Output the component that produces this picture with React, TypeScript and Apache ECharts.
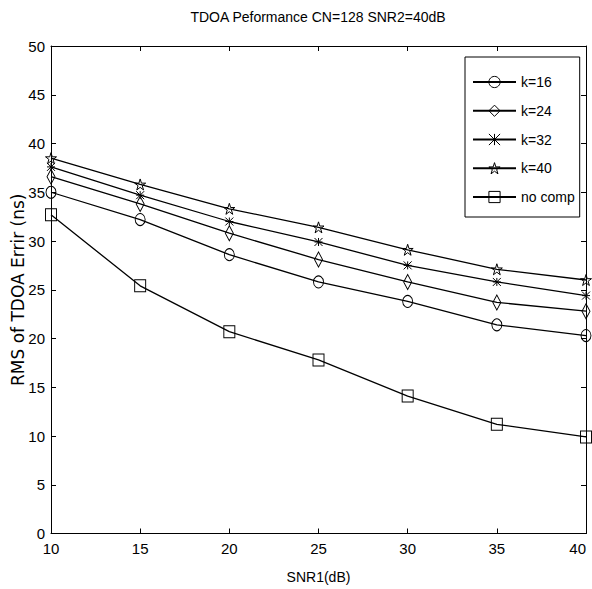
import React, { useEffect, useRef } from "react";
import * as echarts from "echarts";

const snr = [10, 15, 20, 25, 30, 35, 40];
const k16 = [35.0, 32.2, 28.6, 25.8, 23.8, 21.4, 20.3];
const k24 = [36.6, 33.8, 30.8, 28.1, 25.8, 23.7, 22.8];
const k32 = [37.6, 34.7, 32.0, 29.9, 27.5, 25.8, 24.4];
const k40 = [38.5, 35.8, 33.3, 31.4, 29.1, 27.1, 26.0];
const noComp = [32.7, 25.4, 20.7, 17.8, 14.1, 11.2, 9.9];

const seriesNames = ["k=16", "k=24", "k=32", "k=40", "no comp"];
const titleText = "TDOA Peformance CN=128 SNR2=40dB";
const xName = "SNR1(dB)";
const yName = "RMS of TDOA Errir (ns)";

const FONT = '"Liberation Sans", Arial, sans-serif';

const STAR =
  "path://M50,0 L61.2,34.5 L97.6,34.5 L68.2,55.9 L79.4,90.5 L50,69.1 L20.6,90.5 L31.8,55.9 L2.4,34.5 L38.8,34.5 Z";
const ASTER = "path://M0,0L10,10M10,0L0,10M5,0L5,10M0,5L10,5";

export default function App() {
  const ref = useRef<HTMLDivElement>(null);
  useEffect(() => {
    if (!ref.current) return;
    const chart = echarts.init(ref.current, null, { renderer: "svg" });
    const mk = (name: string, vals: number[], symbol: string, size: any) => ({
      name,
      type: "line",
      data: snr.map((x, i) => [x, vals[i]]),
      symbol,
      symbolSize: size,
      showSymbol: true,
      lineStyle: { color: "#000", width: 1.3 },
      itemStyle: { color: "rgba(0,0,0,0)", borderColor: "#000", borderWidth: 1 },
      emphasis: { disabled: true },
      z: 3,
    });
    const axisCommon = {
      type: "value",
      axisLine: { show: true, onZero: false, lineStyle: { color: "#000", width: 1 } },
      axisTick: { show: true, inside: true, length: 5, lineStyle: { color: "#000" } },
      splitLine: { show: false },
    };
    chart.setOption({
      animation: false,
      backgroundColor: "#fff",
      title: {
        text: titleText,
        left: 318,
        top: 10,
        padding: 0,
        textAlign: "center",
        textStyle: { fontFamily: FONT, fontSize: 14, fontWeight: "normal", color: "#000" },
      },
      legend: {
        orient: "vertical",
        left: 465,
        top: 57,
        padding: [18, 5, 13, 7],
        itemWidth: 43,
        itemHeight: 14,
        itemGap: 14.75,
        backgroundColor: "#fff",
        borderColor: "#000",
        borderWidth: 1,
        borderRadius: 0,
        itemStyle: { borderWidth: 1 },
        textStyle: { fontFamily: FONT, fontSize: 14, color: "#000" },
        data: seriesNames,
      },
      grid: { left: 51, right: 6, top: 46, bottom: 55.5, containLabel: false, outerBoundsMode: "none" },
      xAxis: [
        {
          ...axisCommon,
          position: "bottom",
          min: 10,
          max: 40,
          interval: 5,
          name: xName,
          nameLocation: "middle",
          nameGap: 36,
          nameMoveOverlap: false,
          nameTextStyle: { fontFamily: FONT, fontSize: 14, color: "#000" },
          axisLabel: { fontFamily: FONT, fontSize: 15, color: "#000", margin: 7, alignMaxLabel: "right" },
        },
        {
          ...axisCommon,
          position: "top",
          min: 10,
          max: 40,
          interval: 5,
          axisLabel: { show: false },
        },
      ],
      yAxis: [
        {
          ...axisCommon,
          position: "left",
          min: 0,
          max: 50,
          interval: 5,
          name: yName,
          nameLocation: "middle",
          nameGap: 25,
          nameRotate: 90,
          nameMoveOverlap: false,
          nameTextStyle: { fontFamily: '"DejaVu Sans", sans-serif', fontSize: 17, color: "#000" },
          axisLabel: { fontFamily: FONT, fontSize: 15, color: "#000", margin: 6 },
        },
        {
          ...axisCommon,
          position: "right",
          min: 0,
          max: 50,
          interval: 5,
          axisLabel: { show: false },
        },
      ],
      series: [
        mk(seriesNames[0], k16, "circle", [10, 12]),
        mk(seriesNames[1], k24, "diamond", [8, 15]),
        mk(seriesNames[2], k32, ASTER, [8, 8]),
        mk(seriesNames[3], k40, STAR, [11, 11]),
        mk(seriesNames[4], noComp, "rect", [11, 12]),
      ],
    });
    return () => chart.dispose();
  }, []);
  return (
    <div
      ref={ref}
      style={{ position: "fixed", left: 0, top: 0, width: 592, height: 589, background: "#fff" }}
    />
  );
}
